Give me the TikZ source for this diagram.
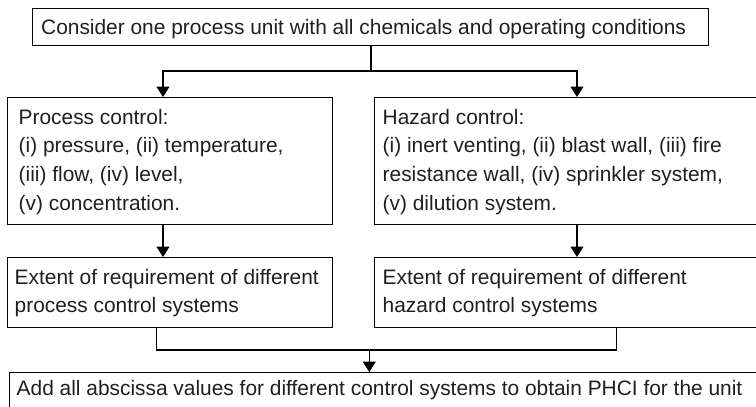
\documentclass[tikz,border=0pt]{standalone}
\usepackage{fontspec}
\setmainfont{Liberation Sans}
\usetikzlibrary{arrows.meta}
\begin{document}
\begin{tikzpicture}[x=1pt,y=-1pt,
  box/.style={draw, line width=1.1pt, rectangle, inner sep=0pt, anchor=north west},
  txt/.style={anchor=base west, inner sep=0pt, text=black!88, font=\fontsize{20.9}{28.8}\selectfont},
  flow/.style={line width=1.1pt},
  arr/.style={flow, -{Triangle[width=13pt,length=10.5pt]}}]
\clip (0,0) rectangle (756,407);
% boxes
\node[box, minimum width=676pt, minimum height=37.5pt] (top) at (32,7.5) {};
\node[box, minimum width=325pt, minimum height=127pt] (pc) at (7,97) {};
\node[box, minimum width=440pt, minimum height=127pt] (hc) at (374,97) {};
\node[box, minimum width=325pt, minimum height=70pt] (pce) at (7,257) {};
\node[box, minimum width=440pt, minimum height=70pt] (hce) at (374,257) {};
\node[box, minimum width=800pt, minimum height=60pt] (sum) at (9,372) {};
% texts
\node[txt] (ttop) at (41,34) {Consider one process unit with all chemicals and operating conditions};
\node[txt] (tpc) at (18.5,124) {\begin{tabular}[t]{@{}l@{}}Process control:\\(i) pressure, (ii) temperature,\\(iii) flow, (iv) level,\\(v) concentration.\end{tabular}};
\node[txt] (thc) at (382.5,124) {\begin{tabular}[t]{@{}l@{}}Hazard control:\\(i) inert venting, (ii) blast wall, (iii) fire\\resistance wall, (iv) sprinkler system,\\(v) dilution system.\end{tabular}};
\node[txt] (tpce) at (14.5,284) {\begin{tabular}[t]{@{}l@{}}Extent of requirement of different\\process control systems\end{tabular}};
\node[txt] (thce) at (382.5,284) {\begin{tabular}[t]{@{}l@{}}Extent of requirement of different\\hazard control systems\end{tabular}};
\node[txt] (tsum) at (16.5,395) {Add all abscissa values for different control systems to obtain PHCI for the unit};
% routing columns
\coordinate (cl) at (163,0);
\coordinate (cr) at (577,0);
\coordinate (cm) at (371,0);
\coordinate (jl) at (156.7,0);
\coordinate (jr) at (616.7,0);
\coordinate (split) at (371,71);
\coordinate (merge) at (369.3,350);
% connectors
\draw[flow] (top.south -| cm) -- (split);
\draw[arr] (split) -| (pc.north -| cl);
\draw[arr] (split) -| (hc.north -| cr);
\draw[arr] (pc.south -| cl) -- (pce.north -| cl);
\draw[arr] (hc.south -| cr) -- (hce.north -| cr);
\draw[flow] (pce.south -| jl) |- (merge);
\draw[flow] (hce.south -| jr) |- (merge);
\draw[arr] (merge) -- (sum.north -| merge);
\end{tikzpicture}
\end{document}
